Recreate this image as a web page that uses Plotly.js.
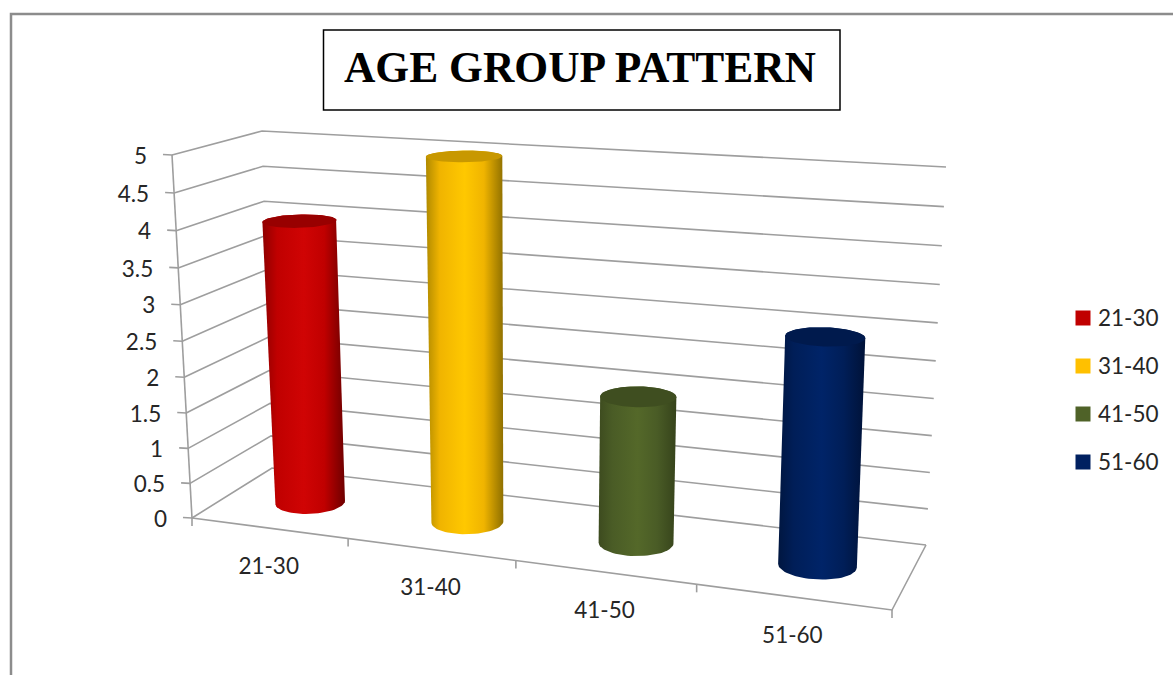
<!DOCTYPE html>
<html>
<head>
<meta charset="utf-8">
<script src="https://cdn.plot.ly/plotly-3.0.1.min.js"></script>
<style>html,body{margin:0;padding:0;background:#fff}#chart{width:1173px;height:675px}</style>
</head>
<body>
<div id="chart"></div>
<script>
// Age group counts, drawn as cylinders on a hand-built perspective frame.
const chartTitle = 'AGE GROUP PATTERN';
const categories = ['21-30', '31-40', '41-50', '51-60'];
const values = [4, 5, 2, 3];
const valueTicks = [0, 0.5, 1, 1.5, 2, 2.5, 3, 3.5, 4, 4.5, 5];
const valueTickLabels = ['0', '0.5', '1', '1.5', '2', '2.5', '3', '3.5', '4', '4.5', '5'];
const swatchColors = ['#c00000', '#ffc000', '#4f6228', '#002060'];
const capColors = ['#980000', '#c89800', '#3f4e20', '#001a4d'];
const edgeLeft = ['#8f0000', '#b08a00', '#3d4b1f', '#001640'];
const edgeRight = ['#6e0000', '#8f7000', '#36431b', '#001238'];
const bodyMid = ['#c00000', '#f0b400', '#4a5c26', '#001e58'];
const bodyLight = ['#d00404', '#ffc800', '#546829', '#002468'];

const valueMax = 5;
const gridColor = '#9e9e9e';
const textColor = '#262626';

// Corners of the floor and of the top plane, as [front-left, front-right, back-right, back-left].
const floorQuad = [[192, 518], [892, 610], [926, 545], [272, 468]];
const topQuad = [[172, 155], [916, 198], [946, 167], [262, 131]];
// Foreshortening of the height: upper intervals read slightly taller than lower ones.
const heightPerspective = 1.053;

// Projective map of the unit square onto a quadrilateral.
function homography(q) {
  const [a, b, c, d] = q;
  const dx1 = b[0] - c[0], dx2 = d[0] - c[0], sx = a[0] - b[0] + c[0] - d[0];
  const dy1 = b[1] - c[1], dy2 = d[1] - c[1], sy = a[1] - b[1] + c[1] - d[1];
  const det = dx1 * dy2 - dx2 * dy1;
  const g = (sx * dy2 - dx2 * sy) / det;
  const h = (dx1 * sy - sx * dy1) / det;
  const A = b[0] - a[0] + g * b[0], B = d[0] - a[0] + h * d[0];
  const D = b[1] - a[1] + g * b[1], E = d[1] - a[1] + h * d[1];
  return (u, w) => {
    const n = g * u + h * w + 1;
    return [(A * u + B * w + a[0]) / n, (D * u + E * w + a[1]) / n];
  };
}
const floorAt = homography(floorQuad);
const topAt = homography(topQuad);

// u runs along the categories, w runs front to back, v is the data value.
function project(u, w, v) {
  const f = floorAt(u, w), t = topAt(u, w), s = v / valueMax;
  const k = s / (s + heightPerspective * (1 - s));
  return [f[0] + (t[0] - f[0]) * k, f[1] + (t[1] - f[1]) * k];
}

const traces = [];
function polyline(points, color, width) {
  traces.push({
    type: 'scatter', mode: 'lines', x: points.map(p => p[0]), y: points.map(p => p[1]),
    line: { color, width }, hoverinfo: 'skip', showlegend: false, cliponaxis: false
  });
}

// Gridlines on the side and back walls.
valueTicks.forEach(v => {
  polyline([project(0, 0, v), project(0, 1, v), project(1, 1, v)], gridColor, 1.6);
});
// Floor outline, value axis and their tick marks.
polyline([project(0, 0, 0), project(1, 0, 0), project(1, 1, 0)], gridColor, 1.6);
polyline([project(0, 0, 0), project(0, 0, valueMax)], gridColor, 1.6);
valueTicks.forEach(v => {
  const p = project(0, 0, v);
  polyline([[p[0] - 9, p[1] - 0.5], p], gridColor, 1.6);
});
categories.concat(['']).forEach((_, i) => {
  const p = project(i / categories.length, 0, 0);
  polyline([p, [p[0], p[1] + 8]], gridColor, 1.6);
});

// Cylinders: a shaded body outline plus a darker cap ellipse.
const radiusU = 0.051, radiusW = 0.21, depthCentre = 0.49, slotShift = 0.005, axisLean = 0.0015, steps = 72;
function ring(uc, v) {
  const pts = [];
  for (let i = 0; i < steps; i++) {
    const th = 2 * Math.PI * i / steps;
    pts.push(project(uc - axisLean * v + radiusU * Math.cos(th), depthCentre + radiusW * Math.sin(th), v));
  }
  return pts;
}
function arcBetween(pts, fromIdx, toIdx) {
  const out = [];
  for (let i = fromIdx; ; i = (i + 1) % pts.length) {
    out.push(pts[i]);
    if (i === toIdx) break;
  }
  return out;
}
values.forEach((val, i) => {
  const uc = (i + 0.5) / categories.length + slotShift;
  const base = ring(uc, 0), cap = ring(uc, val);
  const extreme = (pts, sign) => pts.reduce((best, p, k) => sign * p[0] > sign * pts[best][0] ? k : best, 0);
  const baseL = extreme(base, -1), baseR = extreme(base, 1);
  const capL = extreme(cap, -1), capR = extreme(cap, 1);
  // Front of the ring has the smaller w, so it sits lower on the page.
  const lowerArc = arcBetween(base, baseL, baseR);
  const lower = lowerArc.reduce((s, p) => s + p[1], 0) / lowerArc.length > base[baseL][1]
    ? lowerArc : arcBetween(base, baseR, baseL).reverse();
  const upperArc = arcBetween(cap, capR, capL);
  const upper = upperArc.reduce((s, p) => s + p[1], 0) / upperArc.length < cap[capR][1]
    ? upperArc : arcBetween(cap, capL, capR).reverse();
  const outline = lower.concat(upper);
  outline.push(outline[0]);
  traces.push({
    type: 'scatter', mode: 'lines', x: outline.map(p => p[0]), y: outline.map(p => p[1]),
    fill: 'toself', line: { width: 0 }, name: categories[i], hoverinfo: 'name', showlegend: false,
    fillcolor: swatchColors[i],
    fillgradient: {
      type: 'horizontal',
      colorscale: [[0, edgeLeft[i]], [0.18, bodyMid[i]], [0.5, bodyLight[i]], [0.75, bodyMid[i]], [1, edgeRight[i]]]
    }
  });
  const closedCap = cap.concat([cap[0]]);
  traces.push({
    type: 'scatter', mode: 'lines', x: closedCap.map(p => p[0]), y: closedCap.map(p => p[1]),
    fill: 'toself', fillcolor: capColors[i], line: { width: 0 }, hoverinfo: 'skip', showlegend: false
  });
});

// Value axis labels.
const valuePts = valueTicks.map(v => project(0, 0, v));
traces.push({
  type: 'scatter', mode: 'text', x: valuePts.map(p => p[0] - 25), y: valuePts.map(p => p[1] + 3),
  text: valueTickLabels, textposition: 'middle left', hoverinfo: 'skip', showlegend: false,
  textfont: { family: 'Lato, sans-serif', size: 22.5, color: textColor }, cliponaxis: false
});
// Category labels under the front edge.
const catPts = categories.map((_, i) => project((i + 0.5) / categories.length, 0, 0));
traces.push({
  type: 'scatter', mode: 'text', x: catPts.map(p => p[0]), y: catPts.map(p => p[1] + 40),
  text: categories, textposition: 'middle center', hoverinfo: 'skip', showlegend: false,
  textfont: { family: 'Lato, sans-serif', size: 22.5, color: textColor }, cliponaxis: false
});
// Key on the right: one square and label per category.
traces.push({
  type: 'scatter', mode: 'markers',
  x: categories.map(() => 1083), y: categories.map((_, i) => 318 + 48 * i),
  hoverinfo: 'skip', showlegend: false,
  marker: { symbol: 'square', size: 15, color: swatchColors }, cliponaxis: false
});
traces.push({
  type: 'scatter', mode: 'text',
  x: categories.map(() => 1098), y: categories.map((_, i) => 320 + 48 * i),
  text: categories, textposition: 'middle right', hoverinfo: 'skip', showlegend: false,
  textfont: { family: 'Lato, sans-serif', size: 22.5, color: textColor }, cliponaxis: false
});

const layout = {
  width: 1173, height: 675,
  margin: { l: 0, r: 0, t: 0, b: 0 },
  paper_bgcolor: '#ffffff', plot_bgcolor: '#ffffff',
  showlegend: false,
  title: {
    text: '<b>' + chartTitle + '</b>',
    x: 580 / 1173, xanchor: 'center', xref: 'paper',
    y: 1 - 67 / 675, yanchor: 'middle', yref: 'paper',
    font: { family: 'Liberation Serif, serif', size: 43.5, color: '#000000' }
  },
  xaxis: { range: [0, 1173], visible: false, fixedrange: true },
  yaxis: { range: [675, 0], visible: false, fixedrange: true },
  shapes: [
    { type: 'path', path: 'M 11 675 L 11 14 L 1173 14', line: { color: '#8c8c8c', width: 2.5 }, layer: 'below' },
    { type: 'rect', x0: 323.5, x1: 840, y0: 30, y1: 110, line: { color: '#000000', width: 1.5 }, layer: 'below' }
  ]
};

Plotly.newPlot('chart', traces, layout, { displayModeBar: false, staticPlot: true });
</script>
</body>
</html>
